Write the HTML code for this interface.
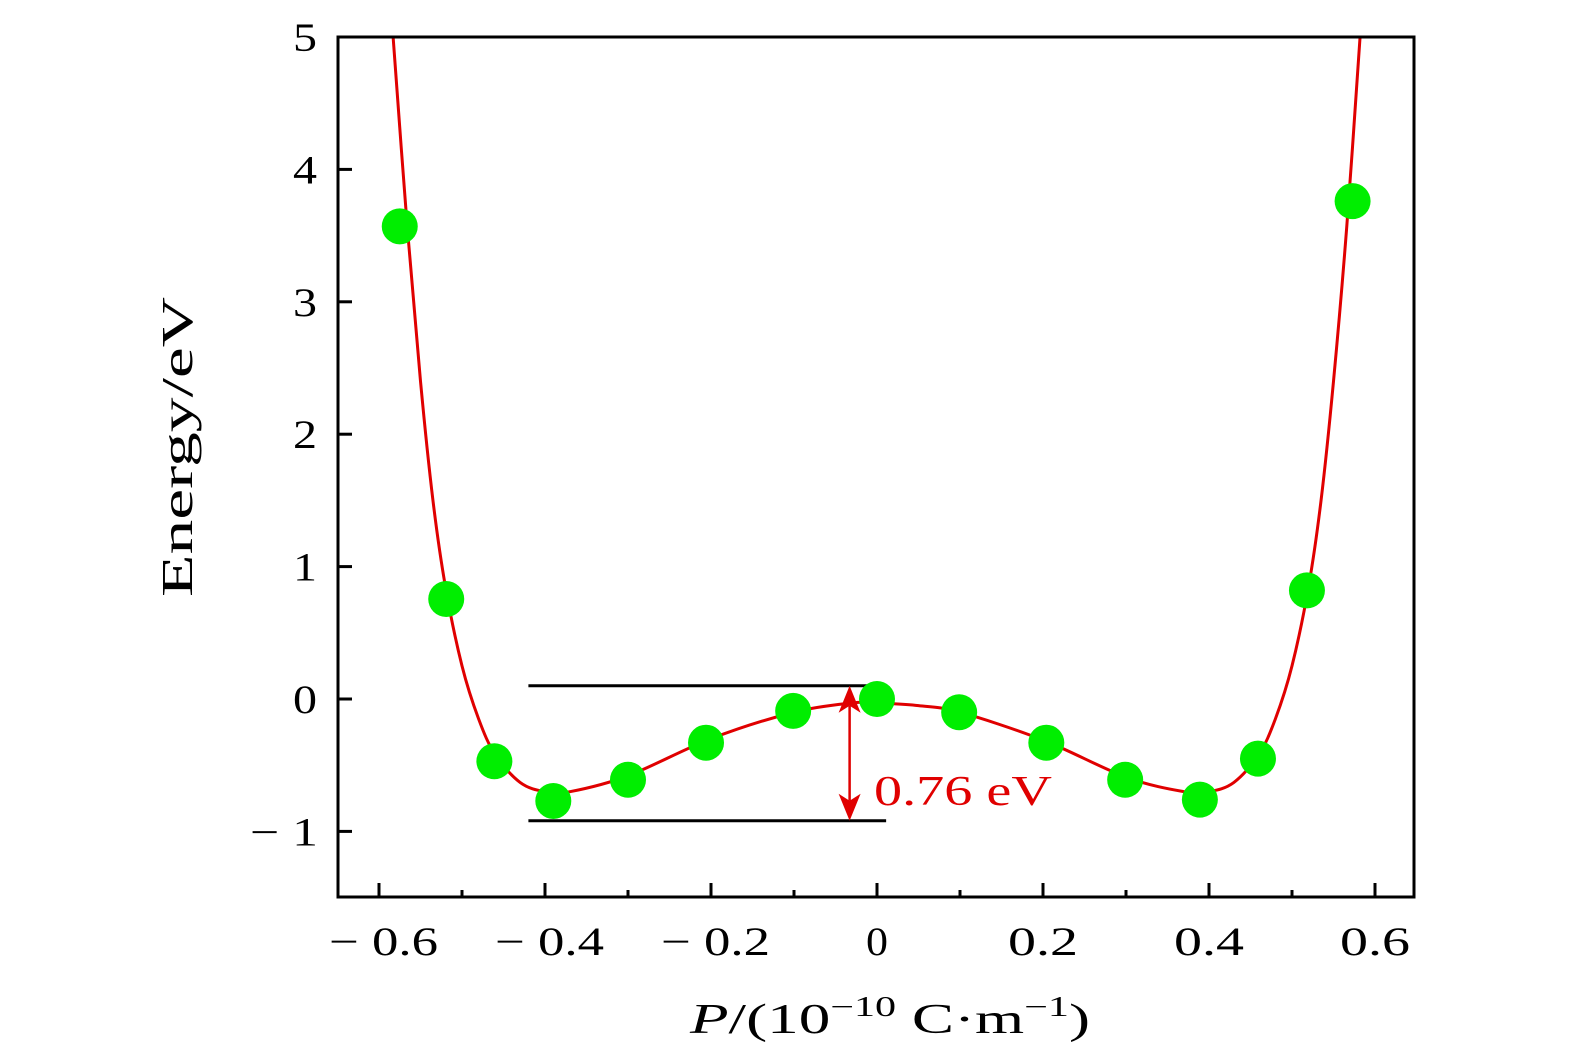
<!DOCTYPE html>
<html><head><meta charset="utf-8"><style>
html,body{margin:0;padding:0;background:#fff;overflow:hidden;}
svg{display:block;font-family:"Liberation Serif",serif;}
</style></head><body>
<svg width="1575" height="1063" viewBox="0 0 1575 1063">
<g id="plot"></g>
<text transform="translate(192,447) rotate(-90)" text-anchor="middle" font-size="44" textLength="300" lengthAdjust="spacingAndGlyphs">Energy/eV</text>
<text x="690" y="1033" font-size="42" textLength="400" lengthAdjust="spacingAndGlyphs"><tspan font-style="italic">P</tspan>/(10<tspan dy="-17" font-size="28">−10</tspan><tspan dy="17"> C·m</tspan><tspan dy="-17" font-size="28">−1</tspan><tspan dy="17">)</tspan></text>
</svg>
<script>
const xTicks=[-0.6,-0.4,-0.2,0,0.2,0.4,0.6];
const xTickLabels=["\u2212 0.6","\u2212 0.4","\u2212 0.2","0","0.2","0.4","0.6"];
const xMinor=[-0.5,-0.3,-0.1,0.1,0.3,0.5];
const yTicks=[-1,0,1,2,3,4,5];
const yTickLabels=["\u2212 1","0","1","2","3","4","5"];
const pointX=[-0.575,-0.519,-0.461,-0.39,-0.30,-0.206,-0.101,0,0.099,0.204,0.299,0.389,0.459,0.518,0.573];
const pointY=[3.57,0.755,-0.47,-0.77,-0.61,-0.33,-0.09,0,-0.1,-0.33,-0.61,-0.76,-0.45,0.82,3.76];
const curveX=[-0.583,-0.566,-0.55,-0.535,-0.52,-0.50,-0.48,-0.46,-0.43,-0.40,-0.37,-0.30,-0.20,-0.10,-0.03,0,0.05,0.10,0.20,0.30,0.37,0.40,0.43,0.46,0.48,0.50,0.52,0.535,0.55,0.566,0.582];
const curveY=[5,3.57,2.4,1.5,0.85,0.25,-0.15,-0.42,-0.63,-0.70,-0.70,-0.58,-0.30,-0.10,-0.03,-0.03,-0.05,-0.10,-0.31,-0.59,-0.70,-0.70,-0.63,-0.42,-0.15,0.25,0.85,1.5,2.4,3.57,5];
const barrierTop=[0.1], barrierBottom=[-0.92], barrierX=[-0.033];
const guideStart=[-0.42], guideEnd=[0.011];

const L=338,R=1414,T=37,B=897;
const xs=v=>877+v*830;
const ys=v=>699-v*132.4;
const NS="http://www.w3.org/2000/svg";
const g=document.getElementById('plot');
function mk(tag,attrs,parent){const e=document.createElementNS(NS,tag);for(const k in attrs)e.setAttribute(k,attrs[k]);(parent||g).appendChild(e);return e;}

let pts=curveX.map((x,i)=>[xs(x),ys(curveY[i])]);
let d="M"+pts[0][0]+","+pts[0][1];
for(let i=0;i<pts.length-1;i++){const p0=pts[Math.max(0,i-1)],p1=pts[i],p2=pts[i+1],p3=pts[Math.min(pts.length-1,i+2)];
d+=" C"+(p1[0]+(p2[0]-p0[0])/6)+","+(p1[1]+(p2[1]-p0[1])/6)+" "+(p2[0]-(p3[0]-p1[0])/6)+","+(p2[1]-(p3[1]-p1[1])/6)+" "+p2[0]+","+p2[1];}
const cp=mk('clipPath',{id:'clip'});mk('rect',{x:L,y:T,width:R-L,height:B-T},cp);
const curve=mk('path',{d:d,fill:'none',stroke:'#e00000','stroke-width':3,'clip-path':'url(#clip)'});



[barrierTop[0],barrierBottom[0]].forEach((v,i)=>{
const ln=mk('line',{x1:xs(guideStart[0]),x2:xs(guideEnd[0]),y1:ys(v),y2:ys(v),stroke:'#000','stroke-width':3});


});
const ax=xs(barrierX[0]),ay1=ys(barrierTop[0]),ay2=ys(barrierBottom[0]);
const arr=mk('g',{});


mk('line',{x1:ax,x2:ax,y1:ay1+20,y2:ay2-20,stroke:'#e00000','stroke-width':2.5},arr);
mk('polygon',{points:`${ax},${ay1} ${ax-11},${ay1+27} ${ax},${ay1+20} ${ax+11},${ay1+27}`,fill:'#e00000'},arr);
mk('polygon',{points:`${ax},${ay2} ${ax-11},${ay2-27} ${ax},${ay2-20} ${ax+11},${ay2-27}`,fill:'#e00000'},arr);
const lab=mk('text',{x:874,y:805,fill:'#e00000','font-size':42,textLength:178,lengthAdjust:'spacingAndGlyphs'});lab.textContent='0.76 eV';



pointX.forEach((x,i)=>{const c=mk('circle',{cx:xs(x),cy:ys(pointY[i]),r:18,fill:'#00ee00'});

});

const fr=mk('rect',{x:L,y:T,width:R-L,height:B-T,fill:'none',stroke:'#000','stroke-width':3});


xTicks.forEach((v,i)=>{mk('line',{x1:xs(v),x2:xs(v),y1:B,y2:B-14,stroke:'#000','stroke-width':3});
const lbl=xTickLabels[i];const neg=lbl.startsWith('\u2212');
const t=mk('text',{x:neg?xs(v)-50:xs(v)-35,y:955,'font-size':40});
if(neg){t.setAttribute('textLength',109);}else if(lbl!=='0'){t.setAttribute('textLength',70);}else{t.setAttribute('x',xs(v)-11);t.setAttribute('textLength',22);}
t.setAttribute('lengthAdjust','spacingAndGlyphs');
t.textContent=lbl;

});
xMinor.forEach(v=>mk('line',{x1:xs(v),x2:xs(v),y1:B,y2:B-7,stroke:'#000','stroke-width':3}));
yTicks.forEach((v,i)=>{mk('line',{x1:L,x2:L+14,y1:ys(v),y2:ys(v),stroke:'#000','stroke-width':3});
const lbl=yTickLabels[i];const neg=lbl.startsWith('\u2212');
const t=mk('text',{x:neg?250:293,y:ys(v)+14,'font-size':40,textLength:neg?68:24,lengthAdjust:'spacingAndGlyphs'});t.textContent=lbl;

});
</script>
</body></html>
